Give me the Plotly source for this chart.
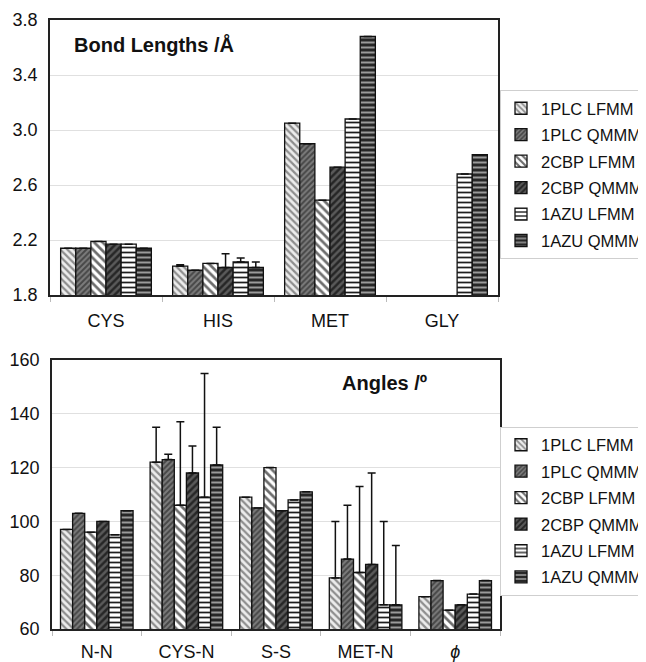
import plotly.graph_objects as go

# ---------------- data ----------------
series_names = ["1PLC LFMM", "1PLC QMMM", "2CBP LFMM", "2CBP QMMM", "1AZU LFMM", "1AZU QMMM"]

bond_categories = ["CYS", "HIS", "MET", "GLY"]
bond_1plc_lfmm = [2.14, 2.01, 3.05, None]
bond_1plc_qmmm = [2.14, 1.98, 2.90, None]
bond_2cbp_lfmm = [2.19, 2.03, 2.49, None]
bond_2cbp_qmmm = [2.17, 2.00, 2.73, None]
bond_1azu_lfmm = [2.17, 2.04, 3.08, 2.68]
bond_1azu_qmmm = [2.14, 2.00, 3.68, 2.82]

bond_err_1plc_lfmm = [None, 0.01, None, None]
bond_err_1plc_qmmm = [None, None, None, None]
bond_err_2cbp_lfmm = [None, None, None, None]
bond_err_2cbp_qmmm = [None, 0.10, None, None]
bond_err_1azu_lfmm = [None, 0.03, None, None]
bond_err_1azu_qmmm = [None, 0.04, None, None]

angle_categories = ["N-N", "CYS-N", "S-S", "MET-N", "<i>ϕ</i>"]
angle_1plc_lfmm = [97, 122, 109, 79, 72]
angle_1plc_qmmm = [103, 123, 105, 86, 78]
angle_2cbp_lfmm = [96, 106, 120, 81, 67]
angle_2cbp_qmmm = [100, 118, 104, 84, 69]
angle_1azu_lfmm = [95, 109, 108, 69, 73]
angle_1azu_qmmm = [104, 121, 111, 69, 78]

angle_err_1plc_lfmm = [None, 13, None, 21, None]
angle_err_1plc_qmmm = [None, 2, None, 20, None]
angle_err_2cbp_lfmm = [None, 31, None, 32, None]
angle_err_2cbp_qmmm = [None, 10, None, 34, None]
angle_err_1azu_lfmm = [None, 46, None, 31, None]
angle_err_1azu_qmmm = [None, 14, None, 22, None]

bond_values = [bond_1plc_lfmm, bond_1plc_qmmm, bond_2cbp_lfmm, bond_2cbp_qmmm, bond_1azu_lfmm, bond_1azu_qmmm]
bond_errors = [bond_err_1plc_lfmm, bond_err_1plc_qmmm, bond_err_2cbp_lfmm, bond_err_2cbp_qmmm, bond_err_1azu_lfmm, bond_err_1azu_qmmm]
angle_values = [angle_1plc_lfmm, angle_1plc_qmmm, angle_2cbp_lfmm, angle_2cbp_qmmm, angle_1azu_lfmm, angle_1azu_qmmm]
angle_errors = [angle_err_1plc_lfmm, angle_err_1plc_qmmm, angle_err_2cbp_lfmm, angle_err_2cbp_qmmm, angle_err_1azu_lfmm, angle_err_1azu_qmmm]

# ---------------- styles ----------------
patterns = [
    dict(shape="\\", bgcolor="#ececec", fgcolor="#8e8e8e", size=5, solidity=0.45),
    dict(shape="/", bgcolor="#7c7c7c", fgcolor="#474747", size=4, solidity=0.5),
    dict(shape="\\", bgcolor="#ffffff", fgcolor="#6e6e6e", size=6, solidity=0.45),
    dict(shape="/", bgcolor="#5a5a5a", fgcolor="#262626", size=5, solidity=0.5),
    dict(shape="-", bgcolor="#ffffff", fgcolor="#1e1e1e", size=5, solidity=0.35),
    dict(shape="-", bgcolor="#262626", fgcolor="#9a9a9a", size=5, solidity=0.4),
]

FONT = "Liberation Sans, Arial, sans-serif"
fig = go.Figure()


def add_bars(cats, vals_list, errs_list, xa, ya, legend_id, grp):
    for i, (name, vals, errs) in enumerate(zip(series_names, vals_list, errs_list)):
        minus = [0 if e is not None else None for e in errs]
        p = patterns[i]
        fig.add_trace(go.Bar(
            x=cats, y=vals, name=name,
            xaxis=xa, yaxis=ya, legend=legend_id,
            legendgroup=f"{grp}{i}",
            marker=dict(color=p["bgcolor"], line=dict(color="#111111", width=1.3),
                        pattern=dict(shape=p["shape"], bgcolor=p["bgcolor"], fgcolor=p["fgcolor"],
                                     size=p["size"], solidity=p["solidity"], fillmode="replace")),
            error_y=dict(type="data", array=errs, arrayminus=minus, symmetric=False,
                         color="#111111", thickness=1.5, width=4),
        ))


add_bars(bond_categories, bond_values, bond_errors, "x", "y", "legend", "t")
add_bars(angle_categories, angle_values, angle_errors, "x2", "y2", "legend2", "b")

# The page body adds an 8px offset; the figure is sized to fill the rest of the window.
OFF = 8
W, H = 646 - OFF, 662 - OFF


def px(x):
    return (x - OFF) / W


def py(y):
    return 1 - (y - OFF) / H


axis_common = dict(showline=True, linecolor="#222222", linewidth=1.5, mirror=True,
                   tickfont=dict(family=FONT, size=18, color="#111111"))

legend_common = dict(font=dict(family=FONT, size=16.5, color="#111111"),
                     bordercolor="#cfcfcf", borderwidth=1, bgcolor="#ffffff",
                     xanchor="left", yanchor="middle", x=px(500),
                     tracegroupgap=2, traceorder="grouped")

fig.update_layout(
    width=W, height=H,
    margin=dict(l=0, r=0, t=0, b=0, autoexpand=False),
    paper_bgcolor="white", plot_bgcolor="white",
    barmode="group", bargap=0.19, bargroupgap=0,
    showlegend=True,
    xaxis=dict(domain=[px(50), px(498)], anchor="y", ticks="outside", tickson="boundaries",
               ticklen=5, tickcolor="#bbbbbb", showgrid=False, ticklabelstandoff=9, **axis_common),
    yaxis=dict(domain=[py(295), py(20)], anchor="x", range=[1.8, 3.8], tick0=1.8, dtick=0.4,
               tickformat=".1f", showgrid=True, gridcolor="#e0e0e0", gridwidth=1, zeroline=False,
               ticks="", ticklabelstandoff=7, **axis_common),
    xaxis2=dict(domain=[px(52), px(500)], anchor="y2", ticks="outside", tickson="boundaries",
                ticklen=5, tickcolor="#bbbbbb", showgrid=False, ticklabelstandoff=6, **axis_common),
    yaxis2=dict(domain=[py(629), py(360)], anchor="x2", range=[60, 160], tick0=60, dtick=20,
                showgrid=True, gridcolor="#e0e0e0", gridwidth=1, zeroline=False,
                ticks="", ticklabelstandoff=7, **axis_common),
    legend=dict(y=py(174.5), **legend_common),
    legend2=dict(y=py(511), **legend_common),
    annotations=[
        dict(text="<b>Bond Lengths /Å</b>", xref="paper", yref="paper", x=px(72), y=py(45),
             xanchor="left", yanchor="middle", showarrow=False,
             font=dict(family=FONT, size=20, color="#111111")),
        dict(text="<b>Angles /º</b>", xref="paper", yref="paper", x=px(340), y=py(383),
             xanchor="left", yanchor="middle", showarrow=False,
             font=dict(family=FONT, size=20, color="#111111")),
    ],
)

fig.write_html("out.html")
